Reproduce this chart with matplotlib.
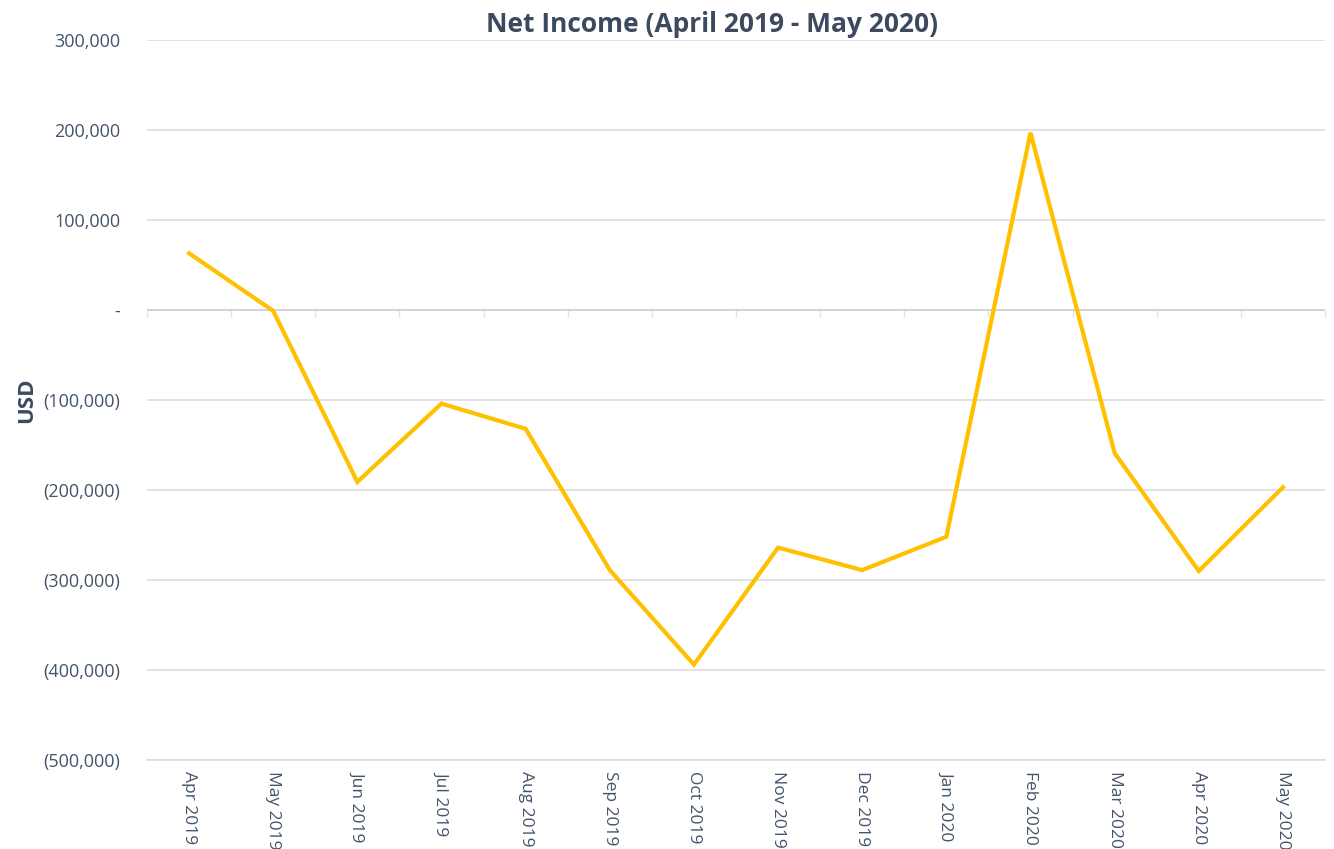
import matplotlib.pyplot as plt
from matplotlib.ticker import FuncFormatter

# data
months = ['Apr 2019', 'May 2019', 'Jun 2019', 'Jul 2019', 'Aug 2019', 'Sep 2019',
          'Oct 2019', 'Nov 2019', 'Dec 2019', 'Jan 2020', 'Feb 2020', 'Mar 2020',
          'Apr 2020', 'May 2020']
net_income = [63000, -1000, -191000, -104000, -132000, -289000, -394000,
              -264000, -289000, -252000, 197000, -159000, -290000, -197000]
y_ticks = [300000, 200000, 100000, 0, -100000, -200000, -300000, -400000, -500000]

text_col = '#44546A'
plt.rcParams['font.family'] = ['Open Sans', 'DejaVu Sans']

fig = plt.figure(figsize=(13.34, 8.49), dpi=100)
ax = fig.add_axes([147/1334, 1 - 760/849, 1178/1334, 720/849])

x = list(range(len(months)))
ax.plot(x, net_income, color='#FFC000', lw=3, solid_joinstyle='miter', zorder=3)

ax.set_xlim(-0.5, len(months) - 0.5)
ax.set_ylim(-500000, 300000)
ax.set_yticks(y_ticks)

def fmt(v, pos):
    if v == 0:
        return '-'
    if v < 0:
        return '({:,.0f})'.format(-v)
    return '{:,.0f}'.format(v)

ax.yaxis.set_major_formatter(FuncFormatter(fmt))
ax.grid(axis='y', color='#DDDDDD', lw=1.2)
ax.set_axisbelow(True)
for s in ['top', 'right', 'left']:
    ax.spines[s].set_visible(False)
ax.spines['bottom'].set_color('#DDDDDD')
ax.spines['bottom'].set_linewidth(1.2)
ax.tick_params(axis='y', length=0, pad=19, labelsize=13, labelcolor=text_col)
ax.set_xticks(x)
ax.set_xticklabels(months, rotation=270, fontsize=12.5, color=text_col)
ax.tick_params(axis='x', length=0, pad=8)

# zero axis line with ticks between categories
ax.axhline(0, color='#D4D4D4', lw=1.4, zorder=1)
sec = ax.secondary_xaxis(0.625)
sec.xaxis.set_ticks_position('bottom')
sec.set_xticks([i - 0.5 for i in range(len(months) + 1)])
sec.set_xticklabels([])
sec.tick_params(axis='x', length=5, color='#E3E3E3', width=1, direction='out')
for s in sec.spines.values():
    s.set_visible(False)

ax.set_ylabel('USD', fontsize=16, fontweight='bold', color='#3B4A5E', labelpad=5)
fig.text(712/1334, 1 - 24/849, 'Net Income (April 2019 - May 2020)', fontsize=19,
         fontweight='bold', color='#3B4A5E', ha='center', va='center')

fig.savefig('out.png', dpi=100)
